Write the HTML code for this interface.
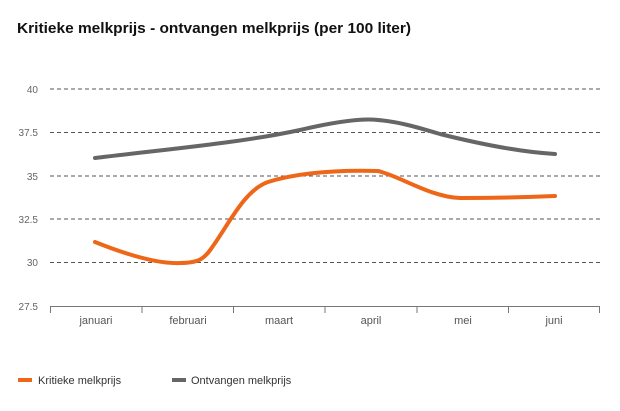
<!DOCTYPE html>
<html><head><meta charset="utf-8"><style>
html,body{margin:0;padding:0;background:#fff;}
</style></head><body>
<svg width="620" height="411" viewBox="0 0 620 411" xmlns="http://www.w3.org/2000/svg" style="display:block">
<rect width="620" height="411" fill="#fff"/>
<text x="17" y="33" font-family="Liberation Sans, sans-serif" font-size="15" font-weight="bold" fill="#111" textLength="394" lengthAdjust="spacingAndGlyphs">Kritieke melkprijs - ontvangen melkprijs (per 100 liter)</text>
<g stroke="#555" stroke-width="1" stroke-dasharray="4,3">
<line x1="50" y1="89" x2="600" y2="89"/>
<line x1="50" y1="132.5" x2="600" y2="132.5"/>
<line x1="50" y1="176" x2="600" y2="176"/>
<line x1="50" y1="219" x2="600" y2="219"/>
<line x1="50" y1="262.5" x2="600" y2="262.5"/>
</g>
<g font-family="Liberation Sans, sans-serif" font-size="10" fill="#666" text-anchor="end">
<text x="38" y="93">40</text>
<text x="38" y="136">37.5</text>
<text x="38" y="180">35</text>
<text x="38" y="223">32.5</text>
<text x="38" y="266">30</text>
<text x="38" y="310">27.5</text>
</g>
<g stroke="#777" stroke-width="1">
<line x1="50" y1="306.5" x2="600" y2="306.5"/>
<line x1="50.5" y1="306" x2="50.5" y2="313"/>
<line x1="142" y1="306" x2="142" y2="313"/>
<line x1="233.5" y1="306" x2="233.5" y2="313"/>
<line x1="325" y1="306" x2="325" y2="313"/>
<line x1="417" y1="306" x2="417" y2="313"/>
<line x1="508.5" y1="306" x2="508.5" y2="313"/>
<line x1="599.5" y1="306" x2="599.5" y2="313"/>
</g>
<g font-family="Liberation Sans, sans-serif" font-size="11" fill="#555" text-anchor="middle">
<text x="96" y="324">januari</text>
<text x="188" y="324">februari</text>
<text x="279" y="324">maart</text>
<text x="371" y="324">april</text>
<text x="463" y="324">mei</text>
<text x="554" y="324">juni</text>
</g>
<path d="M95,158 C160,150 240,143 300,130 C330,123 360,118 378,120 C400,122 420,128 440,134 C480,144 520,152 555,154" fill="none" stroke="#666" stroke-width="4" stroke-linecap="round"/>
<path d="M95,242 C130,256 160,264 180,263 C200,263 205,258 213,246 C230,222 245,190 268,182 C300,172 340,170 378,171 C400,176 430,197 460,198 C500,198 530,197 555,196" fill="none" stroke="#ee6618" stroke-width="4" stroke-linecap="round"/>
<line x1="18" y1="380" x2="32" y2="380" stroke="#ee6618" stroke-width="4"/>
<text x="38" y="384" font-family="Liberation Sans, sans-serif" font-size="11" fill="#333">Kritieke melkprijs</text>
<line x1="172" y1="380" x2="186" y2="380" stroke="#666" stroke-width="4"/>
<text x="191" y="384" font-family="Liberation Sans, sans-serif" font-size="11" fill="#333">Ontvangen melkprijs</text>
</svg>
</body></html>
